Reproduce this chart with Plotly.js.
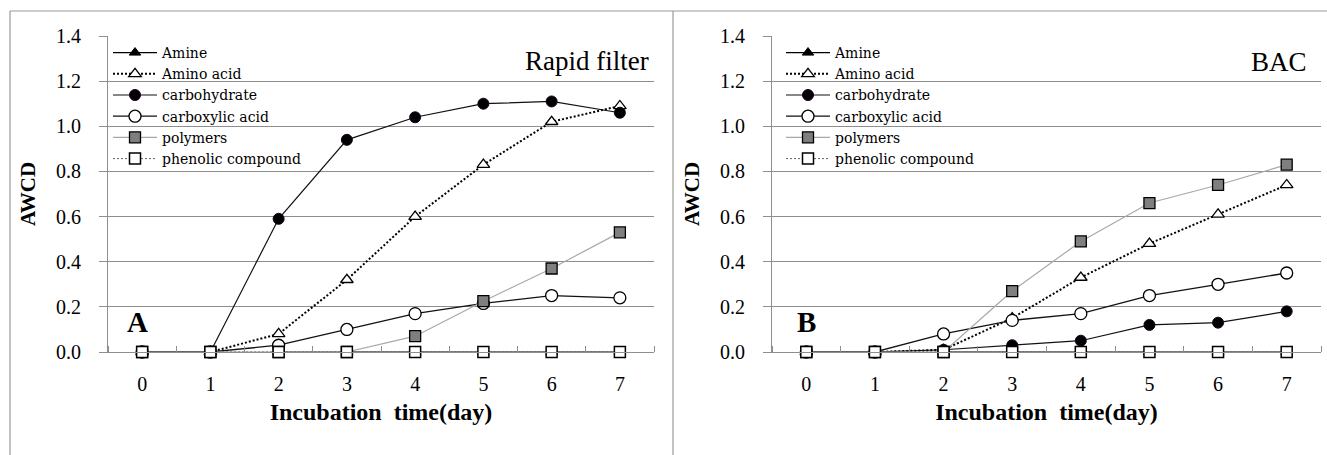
<!DOCTYPE html>
<html>
<head>
<meta charset="utf-8">
<script src="https://cdn.plot.ly/plotly-3.0.1.min.js"></script>
<style>
html,body{margin:0;padding:0;background:#fff;}
#chart{width:1327px;height:455px;}
</style>
</head>
<body>
<div id="chart"></div>
<script>
// ---- data ----
const days = [0, 1, 2, 3, 4, 5, 6, 7];
const seriesNames = ['Amine', 'Amino acid', 'carbohydrate', 'carboxylic acid', 'polymers', 'phenolic compound'];

// Panel A: Rapid filter
const rfAmine        = [null, null, 0, 0, 0, 0, 0, 0];
const rfAminoAcid    = [0, 0, 0.08, 0.32, 0.60, 0.83, 1.02, 1.09];
const rfCarbohydrate = [0, 0, 0.59, 0.94, 1.04, 1.10, 1.11, 1.06];
const rfCarboxylic   = [0, 0, 0.03, 0.10, 0.17, 0.215, 0.25, 0.24];
const rfPolymers     = [0, 0, 0, 0, 0.07, 0.225, 0.37, 0.53];
const rfPhenolic     = [0, 0, 0, 0, 0, 0, 0, 0];

// Panel B: BAC
const bacAmine        = [null, null, 0, 0, 0, 0, 0, 0];
const bacAminoAcid    = [0, 0, 0.01, 0.15, 0.33, 0.48, 0.61, 0.74];
const bacCarbohydrate = [0, 0, 0.01, 0.03, 0.05, 0.12, 0.13, 0.18];
const bacCarboxylic   = [0, 0, 0.08, 0.14, 0.17, 0.25, 0.30, 0.35];
const bacPolymers     = [0, 0, 0, 0.27, 0.49, 0.66, 0.74, 0.83];
const bacPhenolic     = [0, 0, 0, 0, 0, 0, 0, 0];

const yTicks = [0, 0.2, 0.4, 0.6, 0.8, 1.0, 1.2, 1.4];
const xMinorTicks = [-0.5, 0.5, 1.5, 2.5, 3.5, 4.5, 5.5, 6.5, 7.5];

// ---- styling ----
const W = 1327, H = 455;
const px = v => v / W;
const py = v => (H - v) / H;
const SERIF = '"Liberation Serif", "Times New Roman", Times, serif';
const WIDESERIF = '"DejaVu Serif", "Liberation Serif", serif';
const GRID = '#8e8e8e';

const styles = [
  {marker:{symbol:'triangle-up', size:10, color:'#000', line:{color:'#000', width:1}}, line:{color:'#000', width:1.2}},
  {marker:{symbol:'triangle-up', size:11, color:'#fff', line:{color:'#000', width:1.3}}, line:{color:'#000', width:2, dash:'2px,2px'}},
  {marker:{symbol:'circle', size:11, color:'#000', line:{color:'#1a0020', width:1}}, line:{color:'#111', width:1.2}},
  {marker:{symbol:'circle', size:12, color:'#fff', line:{color:'#000', width:1.3}}, line:{color:'#111', width:1.3}},
  {marker:{symbol:'square', size:11, color:'#7f7f7f', line:{color:'#000', width:1.3}}, line:{color:'#a8a8a8', width:1.2}},
  {marker:{symbol:'square', size:11, color:'#fff', line:{color:'#000', width:1.5}}, line:{color:'#666', width:1, dash:'2px,2px'}}
];

function panelTraces(vals, xa, ya, legendId) {
  return vals.map((v, i) => ({
    type: 'scatter', mode: 'lines+markers',
    x: days, y: v, name: seriesNames[i],
    xaxis: xa, yaxis: ya, legend: legendId,
    marker: styles[i].marker, line: styles[i].line,
    cliponaxis: false, connectgaps: false, hoverinfo: 'x+y+name'
  }));
}

const data = [
  ...panelTraces([rfAmine, rfAminoAcid, rfCarbohydrate, rfCarboxylic, rfPolymers, rfPhenolic], 'x', 'y', 'legend'),
  ...panelTraces([bacAmine, bacAminoAcid, bacCarbohydrate, bacCarboxylic, bacPolymers, bacPhenolic], 'x2', 'y2', 'legend2')
];

function xAxis(domain, anchor) {
  return {
    domain: domain, anchor: anchor, range: [-0.5, 7.5],
    tickmode: 'array', tickvals: days, ticks: '',
    ticklabelstandoff: 14,
    tickfont: {family: SERIF, size: 20, color: '#000'},
    showgrid: false, zeroline: false,
    showline: true, linecolor: GRID, linewidth: 1,
    minor: {tickmode: 'array', tickvals: xMinorTicks, ticks: 'inside', ticklen: 6, tickcolor: GRID, tickwidth: 1, showgrid: false},
    title: {text: 'Incubation  time(day)', font: {family: SERIF, size: 24, color: '#000', weight: 'bold'}, standoff: 9},
    fixedrange: true
  };
}
function yAxis(anchor) {
  return {
    domain: [py(352), py(36)], anchor: anchor, range: [0, 1.4],
    tickmode: 'array', tickvals: yTicks, tickformat: '.1f',
    ticks: 'outside', ticklen: 8, tickcolor: GRID, tickwidth: 1,
    ticklabelstandoff: 14,
    tickfont: {family: SERIF, size: 20, color: '#000'},
    showgrid: true, gridcolor: GRID, gridwidth: 1, zeroline: false,
    showline: true, linecolor: GRID, linewidth: 1,
    title: {text: 'AWCD', font: {family: SERIF, size: 21, color: '#000', weight: 'bold'}, standoff: 14},
    fixedrange: true
  };
}

function legend(xPx, yPx) {
  return {
    x: px(xPx), y: py(yPx), xanchor: 'left', yanchor: 'top',
    bgcolor: 'rgba(255,255,255,0)', borderwidth: 0,
    font: {family: WIDESERIF, size: 14, color: '#000'},
    itemwidth: 44, itemsizing: 'trace',
    tracegroupgap: 0, itemclick: false, itemdoubleclick: false
  };
}

function mask(x0, x1, y0, y1) {
  return {type: 'rect', xref: 'paper', yref: 'paper', x0: px(x0), x1: px(x1), y0: py(y1), y1: py(y0),
          fillcolor: '#fff', line: {width: 0}, layer: 'between'};
}
function frameLine(x0, y0, x1, y1) {
  return {type: 'line', xref: 'paper', yref: 'paper', x0: px(x0), y0: py(y0), x1: px(x1), y1: py(y1),
          line: {color: '#9a9a9a', width: 1.2}, layer: 'above'};
}

const layout = {
  width: W, height: H,
  margin: {l: 0, r: 0, t: 0, b: 0},
  paper_bgcolor: '#fff', plot_bgcolor: 'rgba(0,0,0,0)',
  showlegend: true,
  font: {family: SERIF},
  xaxis: xAxis([px(108), px(654)], 'y'),
  yaxis: yAxis('x'),
  xaxis2: xAxis([px(772), px(1321)], 'y2'),
  yaxis2: yAxis('x2'),
  legend: legend(108, 37),
  legend2: legend(781, 37),
  shapes: [
    mask(109, 320, 40, 168),
    mask(773, 999, 40, 168),
    mask(109, 158, 300, 340),
    mask(773, 822, 300, 340),
    frameLine(10, 11, 10, 460),
    frameLine(10, 11, 1327, 11),
    frameLine(673, 11, 673, 460)
  ],
  annotations: [
    {xref: 'paper', yref: 'paper', x: px(651), y: py(61), xanchor: 'right', yanchor: 'middle', showarrow: false,
     text: 'Rapid filter', font: {family: SERIF, size: 27, color: '#000'}},
    {xref: 'paper', yref: 'paper', x: px(1309), y: py(62), xanchor: 'right', yanchor: 'middle', showarrow: false,
     text: 'BAC', font: {family: SERIF, size: 27, color: '#000'}},
    {xref: 'paper', yref: 'paper', x: px(137), y: py(322), xanchor: 'center', yanchor: 'middle', showarrow: false,
     text: 'A', font: {family: SERIF, size: 29, color: '#000', weight: 'bold'}},
    {xref: 'paper', yref: 'paper', x: px(806), y: py(322), xanchor: 'center', yanchor: 'middle', showarrow: false,
     text: 'B', font: {family: SERIF, size: 29, color: '#000', weight: 'bold'}}
  ]
};

Plotly.newPlot('chart', data, layout, {displayModeBar: false});
</script>
</body>
</html>
